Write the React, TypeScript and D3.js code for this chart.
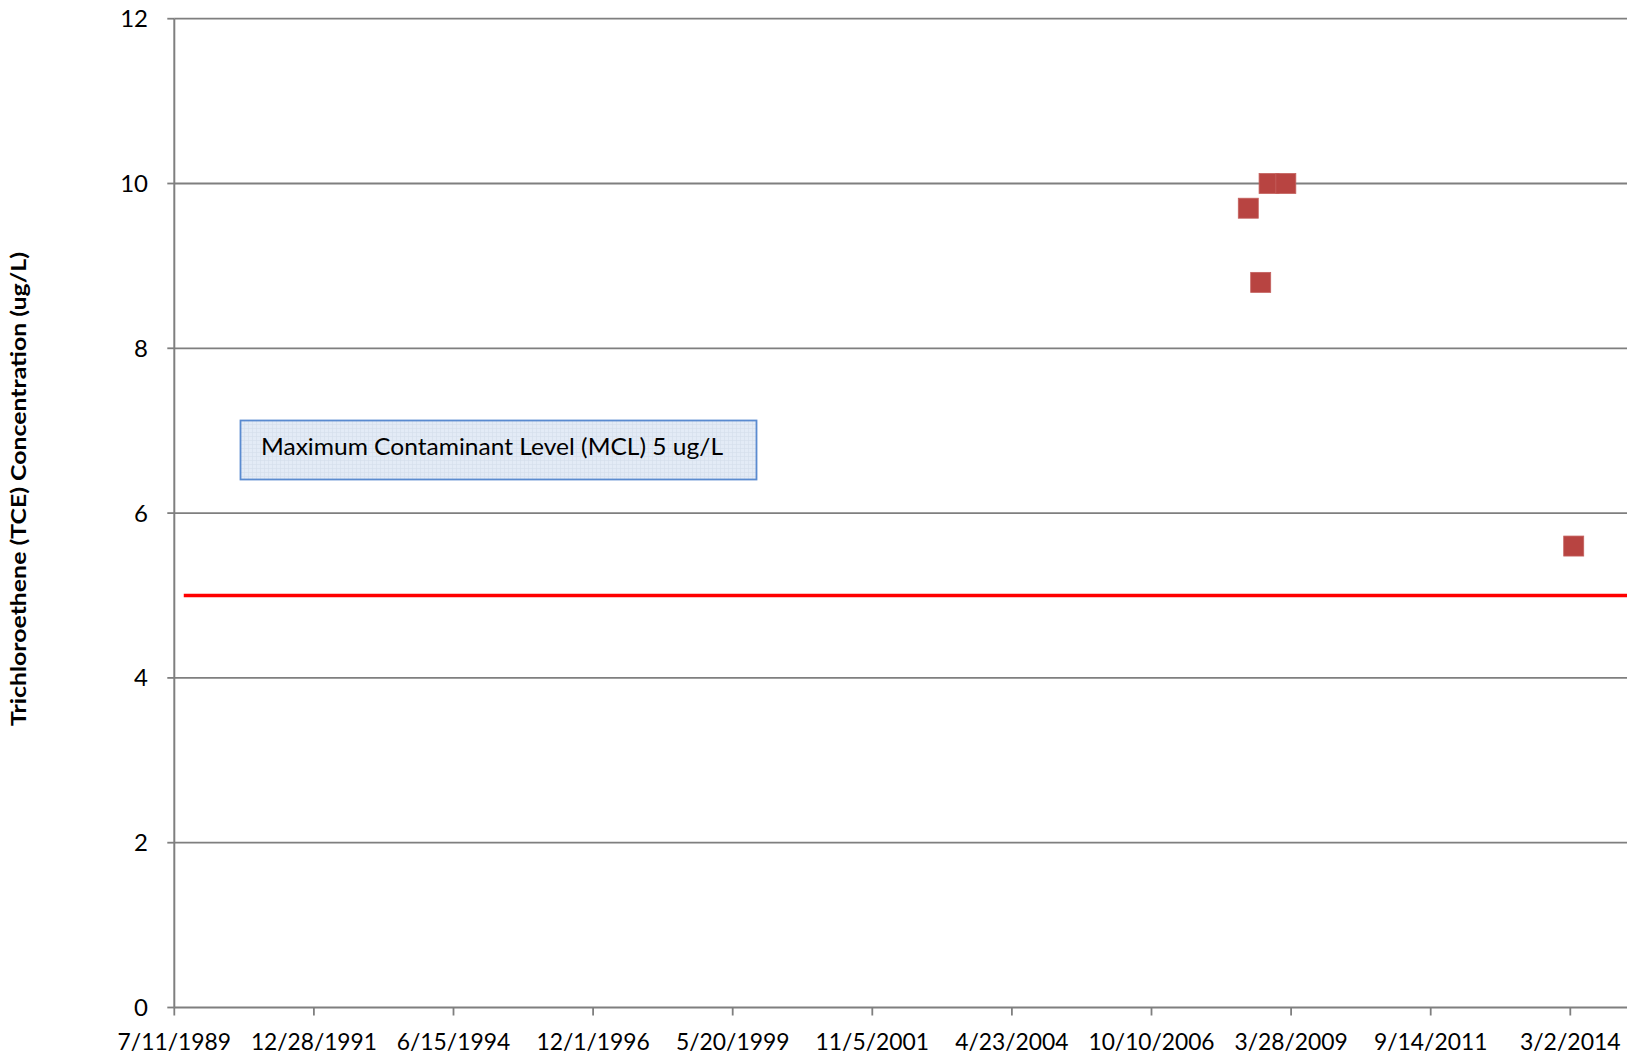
import React from "react";
import * as d3 from "d3";

const xTickLabels = ["7/11/1989", "12/28/1991", "6/15/1994", "12/1/1996", "5/20/1999", "11/5/2001", "4/23/2004", "10/10/2006", "3/28/2009", "9/14/2011", "3/2/2014"];
const yTicks = [0, 2, 4, 6, 8, 10, 12];
const sampleDates = ["6/25/2008", "9/13/2008", "11/6/2008", "2/22/2009", "3/24/2014"];
const tceValues = [9.7, 8.8, 10, 10, 5.6];
const mclDates = ["9/10/1989", "12/31/2016"];
const mclValues = [5, 5];
const mclLabel = "Maximum Contaminant Level (MCL) 5 ug/L";
const yTitle = "Trichloroethene (TCE) Concentration (ug/L)";

const parse = d3.timeParse("%m/%d/%Y");

export default function App() {
  const W = 1627, H = 1054;
  const left = 174.3, top = 18.7, bottom = 1007.5;
  const x = d3.scaleTime()
    .domain([parse("7/11/1989")!, parse("8/18/2016")!])
    .range([left, left + 11 * 139.6]);
  const y = d3.scaleLinear().domain([0, 12]).range([bottom, top]);
  const font = "Lato, 'Open Sans', sans-serif";
  const mclLine = d3.line<number>()
    .x((_, i) => x(parse(mclDates[i])!))
    .y((d) => y(d));
  const sq = 20;
  return (
    <svg width={W} height={H} style={{ position: "absolute", left: 0, top: 0, background: "#fff" }} fontFamily={font}>
      <defs>
        <pattern id="grid" width="4" height="4" patternUnits="userSpaceOnUse">
          <rect width="4" height="4" fill="#e3ebf6" />
          <path d="M0 0.5H4M0.5 0V4" stroke="#d3ddeb" strokeWidth="0.6" />
        </pattern>
      </defs>
      {yTicks.map((t) => (
        <g key={t}>
          {t > 0 && <line x1={left} x2={W} y1={y(t)} y2={y(t)} stroke="#7f7f7f" strokeWidth={1.8} />}
          <line x1={left - 7} x2={left} y1={y(t)} y2={y(t)} stroke="#7f7f7f" strokeWidth={1.8} />
          <text x={148} y={y(t)} dy="0.35em" textAnchor="end" fontSize={24} fill="#000">{t}</text>
        </g>
      ))}
      <line x1={left} x2={left} y1={top} y2={bottom} stroke="#7f7f7f" strokeWidth={2} />
      <line x1={left} x2={W} y1={bottom} y2={bottom} stroke="#7f7f7f" strokeWidth={2} />
      {xTickLabels.map((l) => {
        const xx = x(parse(l)!);
        return (
          <g key={l}>
            <line x1={xx} x2={xx} y1={bottom} y2={bottom + 8} stroke="#7f7f7f" strokeWidth={1.8} />
            <text x={xx} y={1050} textAnchor="middle" fontSize={24} fill="#000" textLength={l.length * 12.6} lengthAdjust="spacingAndGlyphs">{l}</text>
          </g>
        );
      })}
      <path d={mclLine(mclValues) || ""} stroke="#ff0000" strokeWidth={3.5} fill="none" />
      {sampleDates.map((d, i) => (
        <rect key={i} x={x(parse(d)!) - sq / 2} y={y(tceValues[i]) - sq / 2} width={sq} height={sq}
          fill="#b84441" stroke="#c4615e" strokeWidth={0.8} />
      ))}
      <rect x={240.5} y={420.5} width={516} height={59} fill="url(#grid)" stroke="#5a8bd0" strokeWidth={1.8} />
      <text x={261} y={455} fontSize={24} fill="#000" textLength={462} lengthAdjust="spacingAndGlyphs">{mclLabel}</text>
      <text transform="translate(26,489) rotate(-90)" textAnchor="middle" fontSize={21} fontWeight="bold" fill="#000"
        textLength={474} lengthAdjust="spacingAndGlyphs">{yTitle}</text>
    </svg>
  );
}
